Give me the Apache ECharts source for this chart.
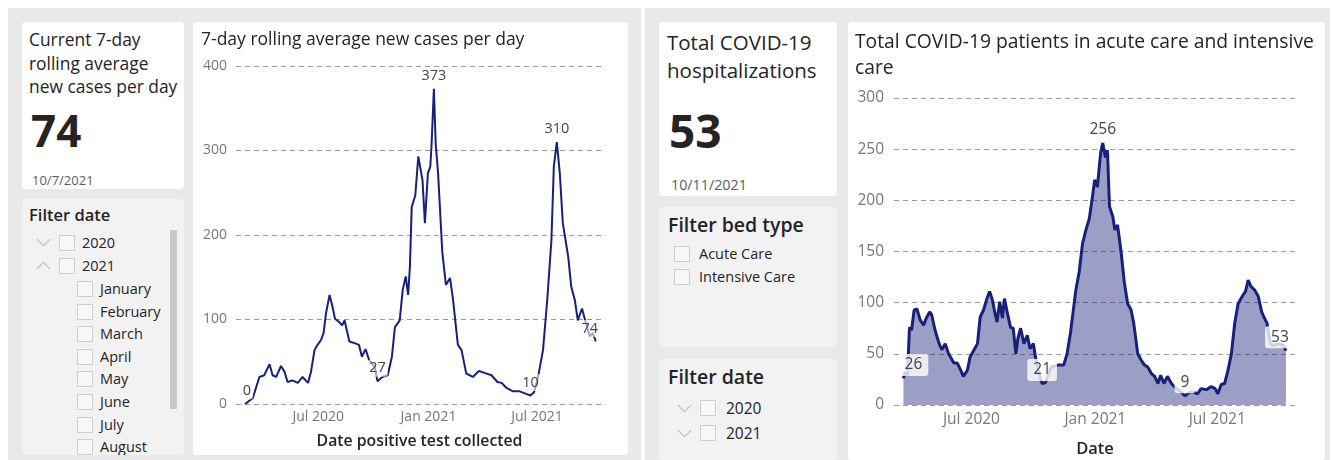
<!DOCTYPE html>
<html>
<head>
<meta charset="utf-8">
<script src="https://cdn.jsdelivr.net/npm/echarts@6/dist/echarts.min.js"></script>
<style>
body{margin:0;width:1332px;height:460px;background:#fff;position:relative;overflow:hidden;font-family:"Open Sans",sans-serif;color:#252423;}
.panel{position:absolute;background:#e9e9e9;}
.card{position:absolute;background:#fff;border-radius:4px;}
.slicer{position:absolute;background:#f2f2f2;border-radius:4px;overflow:hidden;}
.txt{position:absolute;white-space:nowrap;}
.box{position:absolute;width:14px;height:14px;border:1px solid #cfcfcf;background:#f7f7f7;}
.chev{position:absolute;}
.chev svg{display:block;}
</style>
</head>
<body>
<div class="panel" style="left:8px;top:8px;width:633px;height:452px;"></div>
<div class="panel" style="left:645px;top:8px;width:685px;height:452px;"></div>

<!-- left KPI -->
<div class="card" style="left:22px;top:22px;width:162px;height:167px;"></div>
<div class="txt" style="left:29px;top:28px;font-size:17.4px;line-height:23.5px;">Current 7-day<br>rolling average<br>new cases per day</div>
<div class="txt" style="left:31px;top:102px;font-size:44px;line-height:56px;font-weight:700;">74</div>
<div class="txt" style="left:32px;top:171px;font-size:13px;line-height:18px;color:#605e5c;">10/7/2021</div>

<!-- left date slicer -->
<div class="slicer" id="leftSlicer" style="left:22px;top:199px;width:162px;height:256px;"></div>

<!-- left chart -->
<div class="card" style="left:193px;top:22px;width:435px;height:433px;"></div>
<div id="casesChart" style="position:absolute;left:193px;top:22px;width:435px;height:433px;"></div>

<!-- right KPI -->
<div class="card" style="left:659px;top:22px;width:178px;height:174px;"></div>
<div class="txt" style="left:667px;top:28px;font-size:20.5px;line-height:28px;">Total COVID-19<br>hospitalizations</div>
<div class="txt" style="left:669px;top:101px;font-size:46px;line-height:58px;font-weight:700;">53</div>
<div class="txt" style="left:671px;top:176px;font-size:14.3px;line-height:18px;color:#605e5c;">10/11/2021</div>

<!-- bed type slicer -->
<div class="slicer" id="bedSlicer" style="left:659px;top:207px;width:178px;height:140px;"></div>

<!-- right date slicer -->
<div class="slicer" id="rightSlicer" style="left:659px;top:359px;width:178px;height:101px;"></div>

<!-- right chart -->
<div class="card" style="left:848px;top:22px;width:477px;height:438px;"></div>
<div id="hospChart" style="position:absolute;left:848px;top:22px;width:477px;height:438px;"></div>

<script>
// 7-day rolling average new cases
const caseDates = [
  '2020-03-01','2020-03-14','2020-03-25','2020-04-02','2020-04-11','2020-04-16','2020-04-22','2020-04-30',
  '2020-05-06','2020-05-11','2020-05-19','2020-05-28','2020-06-05','2020-06-14','2020-06-19','2020-06-25',
  '2020-06-30','2020-07-06','2020-07-10','2020-07-14','2020-07-20','2020-07-25','2020-07-29','2020-08-05',
  '2020-08-10','2020-08-14','2020-08-22','2020-08-31','2020-09-07','2020-09-12','2020-09-18','2020-09-24',
  '2020-10-03','2020-10-08','2020-10-16','2020-10-25','2020-11-01','2020-11-06','2020-11-14','2020-11-19',
  '2020-11-24','2020-11-28','2020-12-01','2020-12-04','2020-12-10','2020-12-15','2020-12-22','2020-12-26',
  '2020-12-31','2021-01-04','2021-01-06','2021-01-10','2021-01-13','2021-01-17','2021-01-24','2021-01-30',
  '2021-02-06','2021-02-11','2021-02-19','2021-02-25','2021-03-05','2021-03-16','2021-03-26','2021-04-08',
  '2021-04-16','2021-04-26','2021-05-03','2021-05-11','2021-05-22','2021-06-02','2021-06-13','2021-06-20',
  '2021-06-26','2021-07-03','2021-07-11','2021-07-18','2021-07-25','2021-07-29','2021-08-03','2021-08-08',
  '2021-08-13','2021-08-22','2021-08-27','2021-09-02','2021-09-07','2021-09-14','2021-09-20','2021-09-27',
  '2021-10-02','2021-10-07'
];
const caseValues = [
  0,7,32,34,47,34,32,45,
  38,26,28,25,32,25,38,64,
  70,76,84,107,129,115,101,97,
  93,99,74,72,70,56,65,52,
  44,27,32,34,56,91,99,135,
  151,129,162,233,247,293,265,214,
  273,281,305,373,308,273,180,141,
  149,123,70,64,36,32,39,36,
  34,26,25,19,15,15,12,10,
  14,33,64,123,194,281,310,273,
  214,174,139,123,99,113,97,80,
  84,74
];
const caseLabelDates = ['2020-03-01','2020-10-08','2021-01-10','2021-06-20','2021-08-03','2021-10-07'];

// total patients in acute care and intensive care
const hospDates = [
  '2020-03-22','2020-03-24','2020-03-28','2020-03-31','2020-04-03','2020-04-07','2020-04-11','2020-04-16',
  '2020-04-21','2020-04-25','2020-04-30','2020-05-03','2020-05-08','2020-05-14','2020-05-18','2020-05-23',
  '2020-05-28','2020-06-05','2020-06-10','2020-06-15','2020-06-19','2020-06-25','2020-06-29','2020-07-05',
  '2020-07-10','2020-07-14','2020-07-19','2020-07-24','2020-07-28','2020-08-01','2020-08-04','2020-08-08',
  '2020-08-12','2020-08-16','2020-08-19','2020-08-23','2020-08-28','2020-09-01','2020-09-05','2020-09-08',
  '2020-09-12','2020-09-17','2020-09-22','2020-09-26','2020-10-01','2020-10-04','2020-10-09','2020-10-14',
  '2020-10-19','2020-10-27','2020-11-06','2020-11-15','2020-11-20','2020-11-25','2020-12-03','2020-12-08',
  '2020-12-13','2020-12-18','2020-12-23','2020-12-27','2020-12-31','2021-01-04','2021-01-09','2021-01-12',
  '2021-01-16','2021-01-19','2021-01-22','2021-01-27','2021-01-30','2021-02-03','2021-02-08','2021-02-13',
  '2021-02-18','2021-02-23','2021-02-27','2021-03-05','2021-03-10','2021-03-15','2021-03-20','2021-03-25',
  '2021-03-30','2021-04-04','2021-04-08','2021-04-13','2021-04-18','2021-04-24','2021-05-01','2021-05-08',
  '2021-05-14','2021-05-18','2021-05-24','2021-06-02','2021-06-07','2021-06-15','2021-06-22','2021-06-28',
  '2021-07-02','2021-07-07','2021-07-12','2021-07-17','2021-07-22','2021-07-27','2021-08-01','2021-08-07',
  '2021-08-12','2021-08-16','2021-08-20','2021-08-26','2021-08-31','2021-09-05','2021-09-09','2021-09-13',
  '2021-09-18','2021-09-23','2021-09-30','2021-10-08','2021-10-11'
];
const hospValues = [
  26,32,29,76,73,93,94,83,
  78,85,91,88,73,60,54,60,
  50,41,41,34,28,34,47,54,
  60,86,93,104,111,103,93,81,
  101,85,104,91,76,75,50,65,
  75,60,68,55,60,47,31,21,
  22,37,39,39,50,70,112,130,
  158,171,182,200,220,213,247,256,
  242,249,194,184,171,176,151,120,
  99,93,80,50,44,39,37,31,
  28,21,29,21,28,21,16,13,
  9,11,13,11,16,15,18,16,
  11,20,21,34,50,80,99,106,
  111,122,116,112,106,91,85,80,
  60,58,60,58,53
];
const hospLabelDates = ['2020-03-22','2020-10-14','2021-01-12','2021-05-14','2021-10-11'];

const xTickDates = ['2020-07-01','2021-01-01','2021-07-01'];
const monthNames = ['Jan','Feb','Mar','Apr','May','Jun','Jul','Aug','Sep','Oct','Nov','Dec'];

// slicer contents
const leftYears = ['2020','2021'];
const leftMonths = ['January','February','March','April','May','June','July','August'];
const bedTypes = ['Acute Care','Intensive Care'];
const rightYears = ['2020','2021'];

const FONT = 'Open Sans';
const LINE = '#17217a';

function chevron(up){
  const pts = up ? '1,7 7,1 13,7' : '1,1 7,7 13,1';
  return '<svg width="15" height="9" viewBox="0 0 14 8"><polyline points="' + pts +
    '" fill="none" stroke="#c4c4c4" stroke-width="1.2"/></svg>';
}

// left date slicer
(function(){
  const el = document.getElementById('leftSlicer');
  let html = '<div class="txt" style="left:7px;top:4px;font-size:16.5px;line-height:24px;font-weight:600;">Filter date</div>';
  leftYears.forEach((y, i) => {
    const cy = 44 + i * 23;
    html += '<div class="chev" style="left:14px;top:' + (cy - 5) + 'px;">' + chevron(i === 1) + '</div>';
    html += '<div class="box" style="left:37px;top:' + (cy - 8) + 'px;"></div>';
    html += '<div class="txt" style="left:60px;top:' + (cy - 11) + 'px;font-size:14.5px;line-height:22px;">' + y + '</div>';
  });
  leftMonths.forEach((m, i) => {
    const cy = 90 + i * 22.6;
    html += '<div class="box" style="left:55px;top:' + (cy - 8) + 'px;"></div>';
    html += '<div class="txt" style="left:78px;top:' + (cy - 11) + 'px;font-size:14.5px;line-height:22px;">' + m + '</div>';
  });
  html += '<div style="position:absolute;left:148px;top:31px;width:7px;height:179px;background:#c8c8c8;"></div>';
  el.innerHTML = html;
})();

// bed type slicer
(function(){
  const el = document.getElementById('bedSlicer');
  let html = '<div class="txt" style="left:9px;top:4px;font-size:19.5px;line-height:28px;font-weight:600;">Filter bed type</div>';
  bedTypes.forEach((b, i) => {
    const cy = 47 + i * 23;
    html += '<div class="box" style="left:15px;top:' + (cy - 8) + 'px;"></div>';
    html += '<div class="txt" style="left:40px;top:' + (cy - 11) + 'px;font-size:14.5px;line-height:22px;">' + b + '</div>';
  });
  el.innerHTML = html;
})();

// right date slicer
(function(){
  const el = document.getElementById('rightSlicer');
  let html = '<div class="txt" style="left:9px;top:4px;font-size:19.5px;line-height:28px;font-weight:600;">Filter date</div>';
  rightYears.forEach((y, i) => {
    const cy = 49 + i * 24.5;
    html += '<div class="chev" style="left:18px;top:' + (cy - 4) + 'px;">' + chevron(false) + '</div>';
    html += '<div class="box" style="left:41px;top:' + (cy - 8) + 'px;"></div>';
    html += '<div class="txt" style="left:67px;top:' + (cy - 12) + 'px;font-size:15.5px;line-height:24px;">' + y + '</div>';
  });
  el.innerHTML = html;
})();

function toTime(d){ return echarts.number.parseDate(d).getTime(); }

function buildData(dates, values){
  return dates.map((d, i) => [toTime(d), values[i]]);
}

// data labels at chosen dates; first/last are nudged to stay inside the plot
function buildLabels(dates, values, labelDates, edgeShift){
  return labelDates.map((d, k) => {
    const v = values[dates.indexOf(d)];
    const item = { coord: [toTime(d), v], value: v };
    if (k === 0 && edgeShift[0]) item.label = { offset: [edgeShift[0], 0] };
    if (k === labelDates.length - 1 && edgeShift[1]) item.label = { offset: [edgeShift[1], 0] };
    return item;
  });
}

function makeOption(cfg){
  return {
    animation: false,
    title: {
      text: cfg.title,
      left: cfg.titleLeft,
      top: cfg.titleTop,
      textStyle: { fontFamily: FONT, fontSize: cfg.titleSize, fontWeight: 'normal', color: '#252423', lineHeight: cfg.titleLineHeight }
    },
    grid: Object.assign({ outerBoundsMode: 'none' }, cfg.grid),
    xAxis: {
      type: 'value',
      min: toTime(cfg.xMin),
      max: toTime(cfg.xMax),
      name: cfg.xName,
      nameLocation: 'middle',
      nameGap: cfg.nameGap,
      nameTextStyle: { fontFamily: FONT, fontSize: cfg.nameSize, fontWeight: 600, color: '#252423' },
      axisLine: { show: false },
      axisTick: { show: false },
      splitLine: { show: false },
      axisLabel: {
        customValues: xTickDates.map(toTime),
        margin: cfg.xLabelMargin,
        fontFamily: FONT,
        fontSize: cfg.axisSize,
        color: '#777',
        formatter: function (val) {
          const dt = new Date(val);
          return monthNames[dt.getMonth()] + ' ' + dt.getFullYear();
        }
      }
    },
    yAxis: {
      type: 'value',
      min: 0,
      max: cfg.yMax,
      interval: cfg.yInterval,
      axisLine: { show: false },
      axisTick: { show: false },
      axisLabel: { fontFamily: FONT, fontSize: cfg.axisSize, color: '#777', margin: cfg.yLabelMargin },
      splitLine: { lineStyle: { color: '#9a9a9a', type: [5, 4], width: 1 } }
    },
    series: [{
      type: 'line',
      symbol: 'none',
      data: cfg.data,
      lineStyle: { color: LINE, width: cfg.lineWidth },
      areaStyle: cfg.area ? { color: 'rgba(24,32,122,0.43)', opacity: 1 } : undefined,
      markPoint: {
        symbol: 'circle',
        symbolSize: 1,
        itemStyle: { color: 'rgba(0,0,0,0)' },
        label: {
          show: true,
          position: 'top',
          distance: cfg.labelDistance,
          fontFamily: FONT,
          fontSize: cfg.labelSize,
          color: '#444',
          backgroundColor: cfg.labelBg,
          borderRadius: 3,
          padding: cfg.labelPadding,
          formatter: function (p) { return p.value; }
        },
        data: cfg.labels
      }
    }]
  };
}

const casesChart = echarts.init(document.getElementById('casesChart'));
casesChart.setOption(makeOption({
  title: '7-day rolling average new cases per day',
  titleLeft: 3, titleTop: 1, titleSize: 17.5, titleLineHeight: 24,
  grid: { left: 43, right: 25, top: 44, bottom: 51 },
  xMin: '2020-02-15', xMax: '2021-10-19',
  xName: 'Date positive test collected', nameGap: 29, nameSize: 15.8,
  xLabelMargin: 6, yLabelMargin: 9, axisSize: 14,
  yMax: 400, yInterval: 100,
  data: buildData(caseDates, caseValues),
  labels: buildLabels(caseDates, caseValues, caseLabelDates, [2, -6]),
  lineWidth: 2, area: false,
  labelDistance: 4, labelSize: 14.5, labelBg: 'rgba(255,255,255,0.6)', labelPadding: [1, 2]
}));

const hospChart = echarts.init(document.getElementById('hospChart'));
hospChart.setOption(makeOption({
  title: 'Total COVID-19 patients in acute care and intensive\ncare',
  titleLeft: 2, titleTop: 3, titleSize: 19.3, titleLineHeight: 26,
  grid: { left: 46, right: 29, top: 76, bottom: 55 },
  xMin: '2020-03-08', xMax: '2021-10-26',
  xName: 'Date', nameGap: 36, nameSize: 16.5,
  xLabelMargin: 7, yLabelMargin: 10, axisSize: 15.5,
  yMax: 300, yInterval: 50,
  data: buildData(hospDates, hospValues),
  labels: buildLabels(hospDates, hospValues, hospLabelDates, [10, -6]),
  lineWidth: 3, area: true,
  labelDistance: 2, labelSize: 15.5, labelBg: 'rgba(255,255,255,0.8)', labelPadding: [3, 6]
}));
</script>
</body>
</html>
